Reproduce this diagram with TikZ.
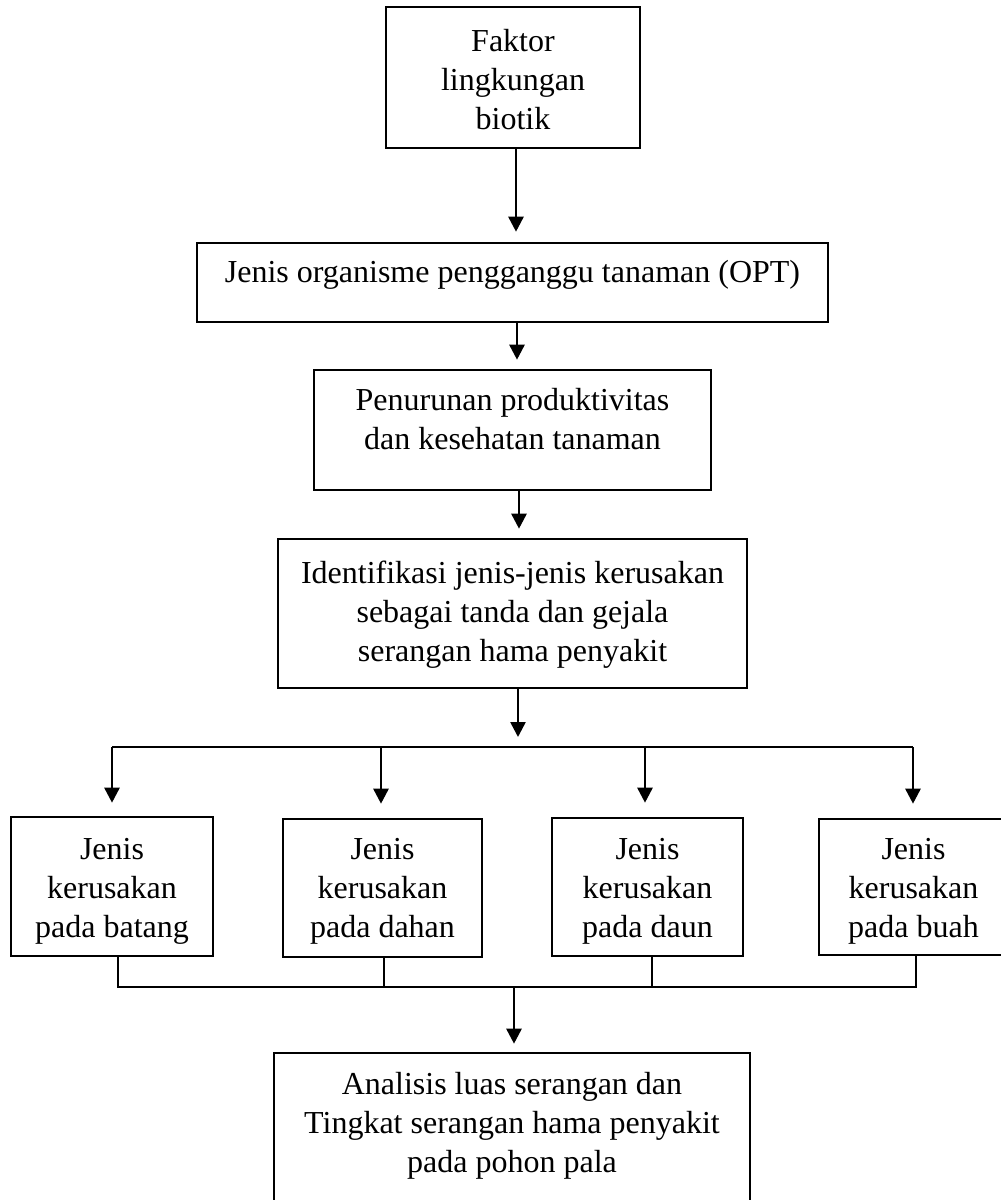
\documentclass[tikz,border=0pt]{standalone}
\usepackage{fontspec}
\setmainfont{Liberation Serif}
\usetikzlibrary{arrows.meta}
\begin{document}
\begin{tikzpicture}[x=1pt,y=-1pt,
  box/.style={draw, line width=2.6pt, inner sep=0pt},
  txt/.style={align=center, font=\fontsize{32}{39}\selectfont, inner sep=0pt},
  arr/.style={line width=2.6pt, -{Triangle[width=15pt,length=15pt]}},
  thinline/.style={line width=1.3pt},
  bracket/.style={line width=1.6pt}]
\useasboundingbox (0,0) rectangle (1001,1200);
\fill[white] (0,0) rectangle (1001,1200);

% boxes
\node[box, minimum width=254pt, minimum height=141pt] (b1) at (513,77.5) {};
\node[box, minimum width=631pt, minimum height=79pt] (b2) at (512.5,282.5) {};
\node[box, minimum width=397pt, minimum height=120pt] (b3) at (512.5,430) {};
\node[box, minimum width=469pt, minimum height=149pt] (b4) at (512.5,613.5) {};
\node[box, minimum width=202pt, minimum height=139pt] (A) at (112,886.5) {};
\node[box, minimum width=199pt, minimum height=138pt] (B) at (382.5,888) {};
\node[box, minimum width=191pt, minimum height=138pt] (C) at (647.5,887) {};
\node[box, minimum width=189pt, minimum height=136pt] (D) at (913.5,887) {};
\node[box, minimum width=476pt, minimum height=157pt] (fin) at (512,1131.5) {};

% texts
\node[txt] (t1) at (513,80) {Faktor\\lingkungan\\biotik};
\node[txt] (t2) at (512.5,274.5) {Jenis organisme pengganggu tanaman (OPT)};
\node[txt] (t3) at (512.5,419) {Penurunan produktivitas\\dan kesehatan tanaman};
\node[txt] (t4) at (512.5,614.5) {Identifikasi jenis-jenis kerusakan\\sebagai tanda dan gejala\\serangan hama penyakit};
\node[txt] (tA) at (112,891) {Jenis\\kerusakan\\pada batang};
\node[txt] (tB) at (382.5,891) {Jenis\\kerusakan\\pada dahan};
\node[txt] (tC) at (647.5,891) {Jenis\\kerusakan\\pada daun};
\node[txt] (tD) at (913.5,891) {Jenis\\kerusakan\\pada buah};
\node[txt] (tf) at (512,1126) {Analisis luas serangan dan\\Tingkat serangan hama penyakit\\pada pohon pala};

% vertical chain
\draw[arr, shorten >=10pt] ([xshift=3pt]b1.south) -- ([xshift=3pt]b1.south |- b2.north);
\draw[arr, shorten >=9pt] ([xshift=4.5pt]b2.south) -- ([xshift=4.5pt]b2.south |- b3.north);
\draw[arr, shorten >=9pt] ([xshift=6.5pt]b3.south) -- ([xshift=6.5pt]b3.south |- b4.north);

% upper bracket
\coordinate (j1) at (112,747);
\coordinate (j2) at (381,747);
\coordinate (j3) at (645,747);
\coordinate (j4) at (913,747);
\draw[bracket] (j1) -- (j4);
\draw[arr, shorten >=10pt] ([xshift=5.5pt]b4.south) -- ([xshift=5.5pt]b4.south |- j1);
\draw[arr, shorten >=13pt] (j1) -- (j1 |- A.north);
\draw[arr, shorten >=14pt] (j2) -- (j2 |- B.north);
\draw[arr, shorten >=14pt] (j3) -- (j3 |- C.north);
\draw[arr, shorten >=14pt] (j4) -- (j4 |- D.north);

% lower bracket
\coordinate (m1) at (118,987);
\coordinate (m2) at (384,987);
\coordinate (m3) at (652,987);
\coordinate (m4) at (916,987);
\coordinate (m0) at (514,987);
\draw[thinline] (m1 |- A.south) -- (m1) -- (m4) -- (m4 |- D.south);
\draw[thinline] (m2 |- B.south) -- (m2);
\draw[thinline] (m3 |- C.south) -- (m3);
\draw[arr, shorten >=8pt] (m0) -- (m0 |- fin.north);
\end{tikzpicture}
\end{document}
